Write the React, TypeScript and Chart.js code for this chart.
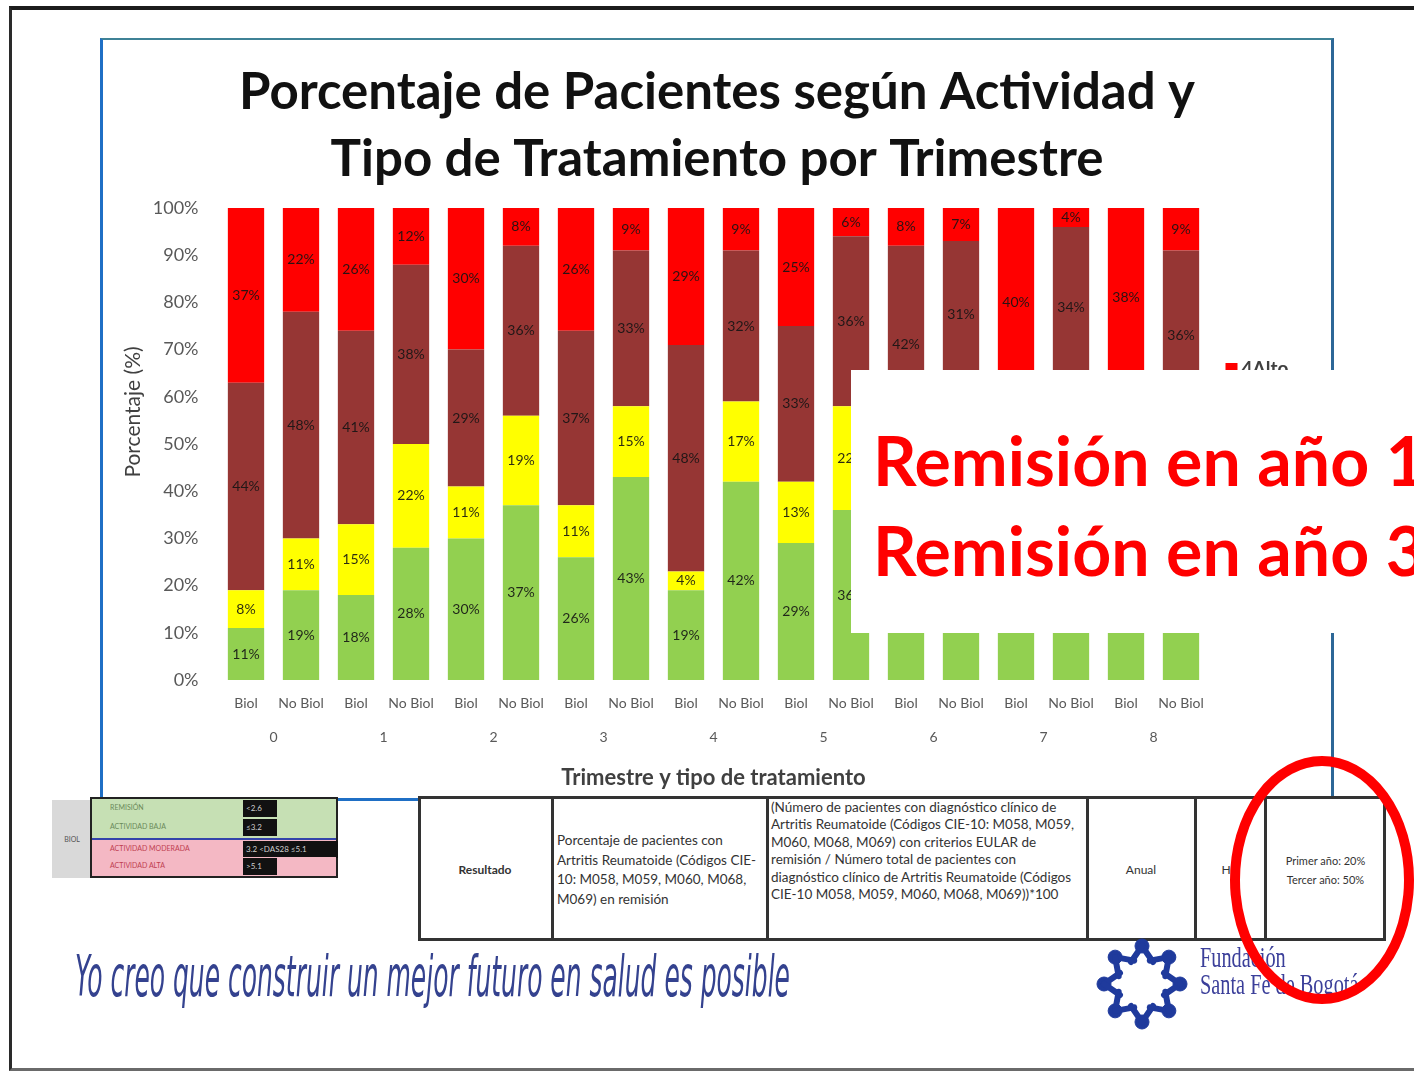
import React, { useEffect, useRef } from 'react';
import { Chart, registerables } from 'chart.js';

Chart.register(...registerables);

const CATEGORY_LABELS = [
  'Biol', 'No Biol', 'Biol', 'No Biol', 'Biol', 'No Biol', 'Biol', 'No Biol', 'Biol',
  'No Biol', 'Biol', 'No Biol', 'Biol', 'No Biol', 'Biol', 'No Biol', 'Biol', 'No Biol',
];
const GROUP_LABELS = ['0', '1', '2', '3', '4', '5', '6', '7', '8'];
const SERIES_NAMES = ['1Remisión', '2Bajo', '3Moderado', '4Alto'];
const SERIES_COLORS = ['#92D050', '#FFFF00', '#963634', '#FF0000'];
const REMISION = [11, 19, 18, 28, 30, 37, 26, 43, 19, 42, 29, 36, 38, 45, 40, 46, 44, 38];
const BAJO = [8, 11, 15, 22, 11, 19, 11, 15, 4, 17, 13, 22, 12, 17, 20, 16, 18, 17];
const MODERADO = [44, 48, 41, 38, 29, 36, 37, 33, 48, 32, 33, 36, 42, 31, 0, 34, 0, 36];
const ALTO = [37, 22, 26, 12, 30, 8, 26, 9, 29, 9, 25, 6, 8, 7, 40, 4, 38, 9];
const Y_MAX = 100;
const Y_STEP = 10;
const Y_TITLE = 'Porcentaje (%)';
const X_TITLE = 'Trimestre y tipo de tratamiento';
const CHART_TITLE = ['Porcentaje de Pacientes según Actividad y', 'Tipo de Tratamiento por Trimestre'];

const FONT = 'Lato, "Open Sans", sans-serif';

const segmentLabels = {
  id: 'segmentLabels',
  afterDatasetsDraw(chart: any) {
    const ctx = chart.ctx;
    ctx.save();
    ctx.font = `14px ${FONT}`;
    ctx.textAlign = 'center';
    ctx.textBaseline = 'middle';
    ctx.fillStyle = 'rgba(20,20,20,0.9)';
    chart.data.datasets.forEach((ds: any, i: number) => {
      const meta = chart.getDatasetMeta(i);
      meta.data.forEach((bar: any, j: number) => {
        const v = ds.data[j];
        if (!v) return;
        const p = bar.getProps(['x', 'y', 'base'], true);
        ctx.fillText(v + '%', p.x, (p.y + p.base) / 2);
      });
    });
    ctx.restore();
  },
};

const sideLegendAndTitle = {
  id: 'sideLegendAndTitle',
  afterDraw(chart: any) {
    const ctx = chart.ctx;
    const a = chart.chartArea;
    ctx.save();
    // legend
    ctx.font = `bold 19px ${FONT}`;
    ctx.textBaseline = 'middle';
    ctx.textAlign = 'left';
    const x = a.right + 17;
    let y = a.top + 161;
    for (let i = SERIES_NAMES.length - 1; i >= 0; i--) {
      ctx.fillStyle = SERIES_COLORS[i];
      ctx.fillRect(x, y - 6, 12, 12);
      ctx.fillStyle = '#404040';
      ctx.fillText(SERIES_NAMES[i], x + 16, y);
      y += 30;
    }
    // y-axis title
    ctx.translate(a.left - 85.5, a.top + 204);
    ctx.rotate(-Math.PI / 2);
    ctx.textAlign = 'center';
    ctx.font = `21px ${FONT}`;
    ctx.fillStyle = '#404040';
    ctx.fillText(Y_TITLE, 0, 0);
    ctx.restore();
  },
};

function ChartBox() {
  const ref = useRef<HTMLCanvasElement | null>(null);
  useEffect(() => {
    if (!ref.current) return;
    const series = [REMISION, BAJO, MODERADO, ALTO];
    const chart = new Chart(ref.current, {
      type: 'bar',
      data: {
        labels: CATEGORY_LABELS,
        datasets: series.map((d, i) => ({
          label: SERIES_NAMES[i],
          data: d,
          backgroundColor: SERIES_COLORS[i],
          borderWidth: 0,
          barPercentage: 0.66,
          categoryPercentage: 1,
          xAxisID: 'x',
          yAxisID: 'y',
        })),
      },
      options: {
        responsive: false,
        animation: false,
        devicePixelRatio: 1,
        layout: { padding: { left: 14.5, right: 14.5, top: 0, bottom: 0 } },
        plugins: {
          legend: { display: false },
          tooltip: { enabled: false },
          title: {
            display: true,
            text: CHART_TITLE,
            font: { family: FONT, size: 51, weight: 'bold', lineHeight: 66.65 / 51 },
            color: '#111111',
            padding: { top: 17.7, bottom: 15 },
          },
        },
        scales: {
          x: {
            stacked: true,
            position: 'bottom',
            weight: 0,
            grid: { display: false, drawTicks: false },
            border: { display: false },
            ticks: {
              autoSkip: false,
              maxRotation: 0,
              padding: 14.6,
              color: '#595959',
              font: { family: FONT, size: 14 },
            },
            afterFit: (s: any) => { s.height = 45; },
          },
          x2: {
            type: 'category',
            labels: GROUP_LABELS,
            offset: true,
            position: 'bottom',
            weight: 1,
            grid: { display: false, drawTicks: false },
            border: { display: false },
            ticks: {
              autoSkip: false,
              maxRotation: 0,
              padding: 3.6,
              color: '#595959',
              font: { family: FONT, size: 14 },
            },
            title: {
              display: true,
              text: X_TITLE,
              color: '#404040',
              font: { family: FONT, size: 22, weight: 'bold' },
              padding: { top: 0, bottom: 6.8 },
            },
            afterFit: (s: any) => { s.height = 73; },
          },
          y: {
            stacked: true,
            min: 0,
            max: Y_MAX,
            grid: { display: false, drawTicks: false },
            border: { display: false },
            ticks: {
              stepSize: Y_STEP,
              padding: 20,
              color: '#595959',
              font: { family: FONT, size: 18 },
              callback: (v: any) => v + '%',
            },
            afterFit: (s: any) => { s.width = 100; },
          },
          yLegendSpace: {
            type: 'linear',
            position: 'right',
            display: true,
            min: 0,
            max: Y_MAX,
            grid: { display: false, drawTicks: false },
            border: { display: false },
            ticks: { display: false },
            afterFit: (s: any) => { s.width = 107; },
          },
        },
      } as any,
      plugins: [segmentLabels, sideLegendAndTitle],
    });
    return () => chart.destroy();
  }, []);
  return <canvas ref={ref} width={1226} height={756} style={{ display: 'block', width: 1226, height: 756 }} />;
}

function Slogan() {
  const ref = useRef<HTMLSpanElement | null>(null);
  useEffect(() => {
    const el = ref.current;
    if (!el) return;
    const w = el.getBoundingClientRect().width;
    if (w > 0) el.style.transform = `scale(${715 / w}, 1.25)`;
  }, []);
  return (
    <span
      ref={ref}
      style={{
        position: 'absolute', left: 75, top: 936, whiteSpace: 'nowrap',
        fontFamily: '"DejaVu Sans Condensed", "DejaVu Sans", sans-serif', fontWeight: 200,
        fontSize: 46, lineHeight: '64px', color: '#34428f', transformOrigin: '0 0',
        fontStyle: 'italic',
      }}
    >
      Yo creo que construir un mejor futuro en salud es posible
    </span>
  );
}

function Logo() {
  const cx = 1142;
  const cy = 984;
  const angles = [0, 45, 90, 135, 180, 225, 270, 315];
  return (
    <svg style={{ position: 'absolute', left: 0, top: 0 }} width={1414} height={1071}>
      {angles.map((a) => {
        const r = (a * Math.PI) / 180;
        const hx = cx + Math.cos(r) * 38;
        const hy = cy + Math.sin(r) * 38;
        const bx = cx + Math.cos(r) * 22;
        const by = cy + Math.sin(r) * 22;
        const px = -Math.sin(r) * 11;
        const py = Math.cos(r) * 11;
        return (
          <g key={a} fill="#1f3a9c" stroke="#1f3a9c">
            <circle cx={hx} cy={hy} r={7} />
            <line x1={bx + px} y1={by + py} x2={hx} y2={hy} strokeWidth={6} strokeLinecap="round" />
            <line x1={bx - px} y1={by - py} x2={hx} y2={hy} strokeWidth={6} strokeLinecap="round" />
          </g>
        );
      })}
    </svg>
  );
}

const cellText: React.CSSProperties = {
  fontFamily: FONT, fontSize: 12, lineHeight: '18px', color: '#333',
};

export default function App() {
  const cols = [418, 552, 767, 1087, 1195, 1265, 1386];
  return (
    <div style={{ position: 'fixed', left: 0, top: 0, width: 1414, height: 1071, overflow: 'hidden', background: '#ffffff', fontFamily: FONT }}>
      {/* slide frame */}
      <div style={{ position: 'absolute', left: 9, top: 6, width: 1500, height: 1058, borderTop: '4px solid #1c1c1c', borderLeft: '3px solid #2a2a2a', borderBottom: '3px solid #6a6a6a' }} />
      {/* chart box */}
      <div style={{ position: 'absolute', left: 100, top: 38, width: 1228, height: 758, borderLeft: '3px solid #1f6fc5', borderTop: '2px solid #3f8296', borderRight: '3px solid #2d6797', borderBottom: '3px solid #1f6fc5' }} />
      <div style={{ position: 'absolute', left: 104, top: 42 }}>
        <ChartBox />
      </div>

      {/* white overlay with remark */}
      <div style={{ position: 'absolute', left: 851, top: 370, width: 600, height: 263, background: '#ffffff' }}>
        <div style={{ position: 'absolute', left: 22, top: 52, whiteSpace: 'nowrap', fontFamily: FONT, fontWeight: 700, fontSize: 68, lineHeight: '76px', color: '#ff0000' }}>Remisión en año 1</div>
        <div style={{ position: 'absolute', left: 22, top: 142, whiteSpace: 'nowrap', fontFamily: FONT, fontWeight: 700, fontSize: 68, lineHeight: '76px', color: '#ff0000' }}>Remisión en año 3</div>
      </div>

      {/* small DAS28 table */}
      <div style={{ position: 'absolute', left: 52, top: 800, width: 40, height: 78, background: '#d9d9d9', fontSize: 7, color: '#555', display: 'flex', alignItems: 'center', justifyContent: 'center' }}>BIOL</div>
      <div style={{ position: 'absolute', left: 90, top: 797, width: 244, height: 77, border: '2px solid #222', background: '#c6e0b4' }}>
        {[
          { t: 'REMISIÓN', v: '<2.6', bg: '#c6e0b4' },
          { t: 'ACTIVIDAD BAJA', v: '≤3.2', bg: '#c6e0b4' },
          { t: 'ACTIVIDAD MODERADA', v: '3.2 <DAS28 ≤5.1', bg: '#f4b8c4' },
          { t: 'ACTIVIDAD ALTA', v: '>5.1', bg: '#f4b8c4' },
        ].map((r, i) => (
          <div key={i} style={{ position: 'absolute', left: 0, top: i * 19.25, width: 244, height: 19.25, background: r.bg, borderTop: i === 2 ? '2px solid #3344aa' : 'none', boxSizing: 'border-box' }}>
            <span style={{ position: 'absolute', left: 18, top: 4, fontSize: 7, color: i < 2 ? '#6a8a5a' : '#c04050' }}>{r.t}</span>
            <span style={{ position: 'absolute', left: 151, top: 1, height: 17, width: i === 2 ? 95 : 34, background: '#111', color: '#cfcfcf', fontSize: 8, lineHeight: '17px', paddingLeft: 3, boxSizing: 'border-box', whiteSpace: 'nowrap', overflow: 'hidden' }}>{r.v}</span>
          </div>
        ))}
      </div>

      {/* indicator table */}
      <div style={{ position: 'absolute', left: 418, top: 796, width: 968, height: 145, background: '#fff', border: '3px solid #333', boxSizing: 'border-box' }} />
      {cols.slice(1, -1).map((x) => (
        <div key={x} style={{ position: 'absolute', left: x - 1, top: 796, width: 3, height: 145, background: '#333' }} />
      ))}
      <div style={{ position: 'absolute', left: 418, top: 861, width: 134, textAlign: 'center', ...cellText, fontWeight: 700 }}>Resultado</div>
      <div style={{ position: 'absolute', left: 557, top: 831, width: 208, ...cellText, fontSize: 13.5, lineHeight: '19.5px' }}>
        Porcentaje de pacientes con Artritis Reumatoide (Códigos CIE-10: M058, M059, M060, M068, M069) en remisión
      </div>
      <div style={{ position: 'absolute', left: 771, top: 799, width: 314, ...cellText, fontSize: 13.5, lineHeight: '17.4px' }}>
        (Número de pacientes con diagnóstico clínico de Artritis Reumatoide (Códigos CIE-10: M058, M059, M060, M068, M069) con criterios EULAR de remisión / Número total de pacientes con diagnóstico clínico de Artritis Reumatoide (Códigos CIE-10 M058, M059, M060, M068, M069))*100
      </div>
      <div style={{ position: 'absolute', left: 1087, top: 861, width: 108, textAlign: 'center', ...cellText }}>Anual</div>
      <div style={{ position: 'absolute', left: 1195, top: 861, width: 70, textAlign: 'center', ...cellText }}>HC</div>
      <div style={{ position: 'absolute', left: 1265, top: 851, width: 121, textAlign: 'center', ...cellText, fontSize: 11, lineHeight: '19px' }}>
        Primer año: 20%<br />Tercer año: 50%
      </div>

      <Slogan />
      <Logo />
      <div style={{ position: 'absolute', left: 1200, top: 944, fontFamily: '"Liberation Serif", "DejaVu Serif", serif', fontSize: 29, lineHeight: '27px', color: '#3b3f9a', whiteSpace: 'nowrap', transform: 'scaleX(0.7)', transformOrigin: '0 0' }}>
        Fundación<br />Santa Fe de Bogotá
      </div>

      {/* red highlight ellipse */}
      <svg style={{ position: 'absolute', left: 0, top: 0 }} width={1414} height={1071}>
        <ellipse cx={1322} cy={880} rx={87} ry={119} fill="none" stroke="#ff0000" strokeWidth={10} />
      </svg>
    </div>
  );
}
